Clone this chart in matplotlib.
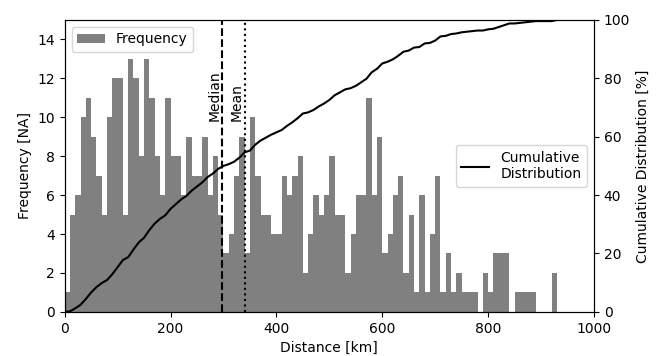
import numpy as np
import matplotlib
matplotlib.use("Agg")
import matplotlib.pyplot as plt

# histogram counts, 10 km bins starting at 0 km
bin_width = 10
counts = [1, 5, 6, 10, 11, 9, 7, 5, 10, 12,
          12, 5, 13, 12, 8, 13, 11, 8, 6, 11,
          8, 8, 6, 9, 7, 7, 9, 6, 8, 5,
          3, 4, 7, 9, 3, 10, 7, 5, 5, 4,
          4, 7, 6, 7, 8, 2, 4, 6, 5, 6,
          8, 5, 5, 2, 4, 6, 6, 11, 6, 9,
          3, 4, 6, 7, 2, 5, 1, 6, 1, 4,
          7, 1, 3, 1, 2, 1, 1, 1, 0, 2,
          1, 3, 3, 3, 0, 1, 1, 1, 1, 0,
          0, 0, 2]
median_km = 298
mean_km = 340

counts = np.array(counts)
left_edges = np.arange(len(counts)) * bin_width
right_edges = left_edges + bin_width
cum_x = np.concatenate([[0], right_edges])
cum_pct = np.concatenate([[0], np.cumsum(counts)]) / counts.sum() * 100

fig = plt.figure(figsize=(6.6, 3.56), dpi=100)
ax = fig.add_axes([0.098, 0.124, 0.802, 0.82])

ax.bar(left_edges, counts, width=bin_width, align='edge', color='grey', label='Frequency')
ax.axvline(median_km, color='black', linestyle='--', linewidth=1.5)
ax.axvline(mean_km, color='black', linestyle=':', linewidth=1.5)
ax.text(median_km - 1, 9.8, 'Median', rotation=90, ha='right', va='bottom', fontsize=10)
ax.text(mean_km - 1, 9.8, 'Mean', rotation=90, ha='right', va='bottom', fontsize=10)

ax.set_xlim(0, 1000)
ax.set_ylim(0, 15)
ax.set_yticks(range(0, 15, 2))
ax.set_xlabel('Distance [km]')
ax.set_ylabel('Frequency [NA]')
ax.legend(loc='upper left')

ax2 = ax.twinx()
ax2.plot(cum_x, cum_pct, color='black', linewidth=1.5, label='Cumulative\nDistribution')
ax2.set_ylim(0, 100)
ax2.set_ylabel('Cumulative Distribution [%]')
ax2.legend(loc='center right')

fig.savefig('out.png', dpi=100)
